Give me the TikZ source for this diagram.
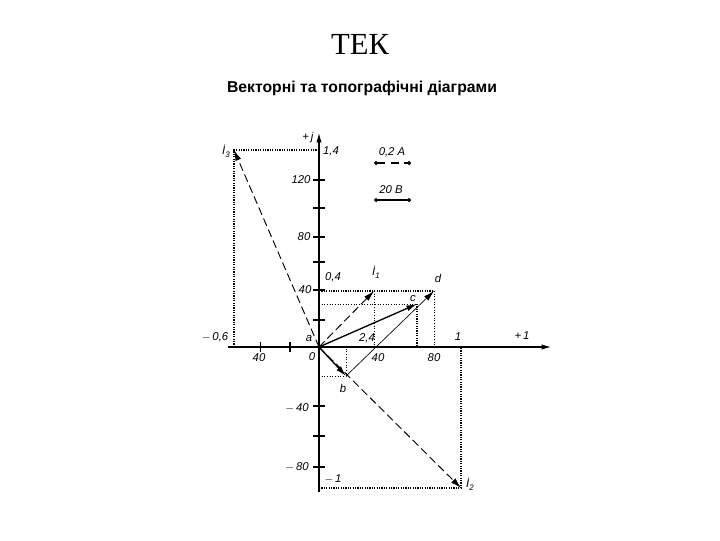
\documentclass[tikz,border=0pt]{standalone}
\usepackage{fontspec}
\setmainfont{Liberation Serif}
\setsansfont{Liberation Sans}
\usetikzlibrary{arrows.meta}

\tikzset{
	axis/.style={-{Latex[length=7pt,width=4pt]}, line width=0.8pt},
	axtick/.style={line width=1.4pt},
	vec/.style={-{Latex[length=8pt,width=4.5pt]}, line width=1pt},
	thinvec/.style={-{Latex[length=8pt,width=4.5pt]}, line width=0.5pt},
	curvec/.style={-{Latex[length=8pt,width=4.5pt]}, line width=0.7pt, dash pattern=on 6pt off 3pt},
	proj/.style={line width=1.1pt, dash pattern=on 0.9pt off 0.9pt},
	fineproj/.style={line width=0.5pt, dash pattern=on 0.8pt off 1.2pt},
	lbl/.style={font=\sffamily\itshape\fontsize{8.5}{9}\selectfont, inner sep=1pt},
	scalebar/.style={{Circle[length=3pt]}-{Circle[length=3pt]}, line width=0.9pt},
}
\newcommand{\curlbl}[1]{İ\raisebox{-0.5ex}{\fontsize{6}{6}\selectfont #1}}

\begin{document}
\begin{tikzpicture}[x=0.75pt, y=-0.75pt]
\useasboundingbox (0,0) rectangle (720,540);

\node (title) at (360,44) {\fontsize{23}{25}\selectfont ТЕК};
\node[font=\sffamily\bfseries\fontsize{11.8}{13}\selectfont] (subtitle) at (362,88) {Векторні та топографічні діаграми};

% points of the diagram
\coordinate (a) at (319,347);
\coordinate (b) at (346,376);
\coordinate (c) at (417,304);
\coordinate (d) at (434,291);
\coordinate (I1) at (374,291);
\coordinate (I2) at (461,488);
\coordinate (I3) at (234,150);

% axes
\coordinate (xl) at (228,347);
\coordinate (xr) at (551,347);
\coordinate (yb) at (319,492);
\coordinate (yt) at (319,133);
\draw[axis] (xl) -- (xr);
\draw[axis] (yb) -- (yt);
\foreach \y in {180,208,237,262,290,320,406,436,467}
	\draw[axtick] (313,\y) -- (325,\y);
\draw[line width=0.5pt] (260,342) -- (260,352);
\draw[axtick] (290,342) -- (290,352);

% axis labels
\node[lbl] (v120) at (301,180) {120};
\node[lbl] (v80) at (304,237) {80};
\node[lbl] (v40) at (305,290) {40};
\node[lbl] (vm40) at (297,408) {$-$\,40};
\node[lbl] (vm80) at (297,467) {$-$\,80};
\node[lbl] (h40l) at (259,358) {40};
\node[lbl] (h0) at (312,357) {0};
\node[lbl] (h40r) at (378,358) {40};
\node[lbl] (h80) at (434,358) {80};
\node[lbl] (i14) at (331,151) {1,4};
\node[lbl] (i04) at (333,277) {0,4};
\node[lbl] (im06) at (215,337) {$-$\,0,6};
\node[lbl] (i1) at (458,337) {1};
\node[lbl] (im1) at (333,479) {$-$\,1};
\node[lbl] (axx) at (522,336) {+\,1};
\node[lbl] (axy) at (308,138) {+\,j};

% projections
\draw[proj] (I3 -| a) -- (I3) -- (I3 |- a);
\draw[proj] (I1 -| a) -- (d);
\draw[fineproj] (I1) -- (I1 |- a);
\draw[fineproj] (d) -- (d |- a);
\draw[fineproj] (c -| a) -- (c);
\draw[proj] (c) -- (c |- a);
\draw[fineproj] (b -| a) -- (b) -- (b |- a);
\draw[proj] (I2 -| a) -- (I2) -- (I2 |- a);

% vectors
\draw[curvec] (a) -- (I3);
\draw[curvec] (a) -- (I1);
\draw[curvec] (a) -- (I2);
\draw[vec] (a) -- (c);
\draw[vec] (a) -- (b);
\draw[thinvec] (b) -- (d);

% point labels
\node[lbl] (la) at (309,338) {a};
\node[lbl] (lb) at (343,388) {b};
\node[lbl] (lc) at (413,298) {c};
\node[lbl] (ld) at (438,278) {d};
\node[lbl] (lz) at (367,338) {2,4};
\node[lbl] (lI1) at (376,272) {\curlbl{1}};
\node[lbl] (lI2) at (470,484) {\curlbl{2}};
\node[lbl] (lI3) at (226,151) {\curlbl{3}};

% scales
\node[lbl] (scI) at (392,152) {0,2 A};
\coordinate (sIa) at (374,163);
\coordinate (sIb) at (411,163);
\draw[scalebar, dash pattern=on 6pt off 4pt] (sIa) -- (sIb);
\node[lbl] (scU) at (391,190) {20 В};
\coordinate (sUa) at (374,200);
\coordinate (sUb) at (411,200);
\draw[scalebar] (sUa) -- (sUb);
\end{tikzpicture}
\end{document}
